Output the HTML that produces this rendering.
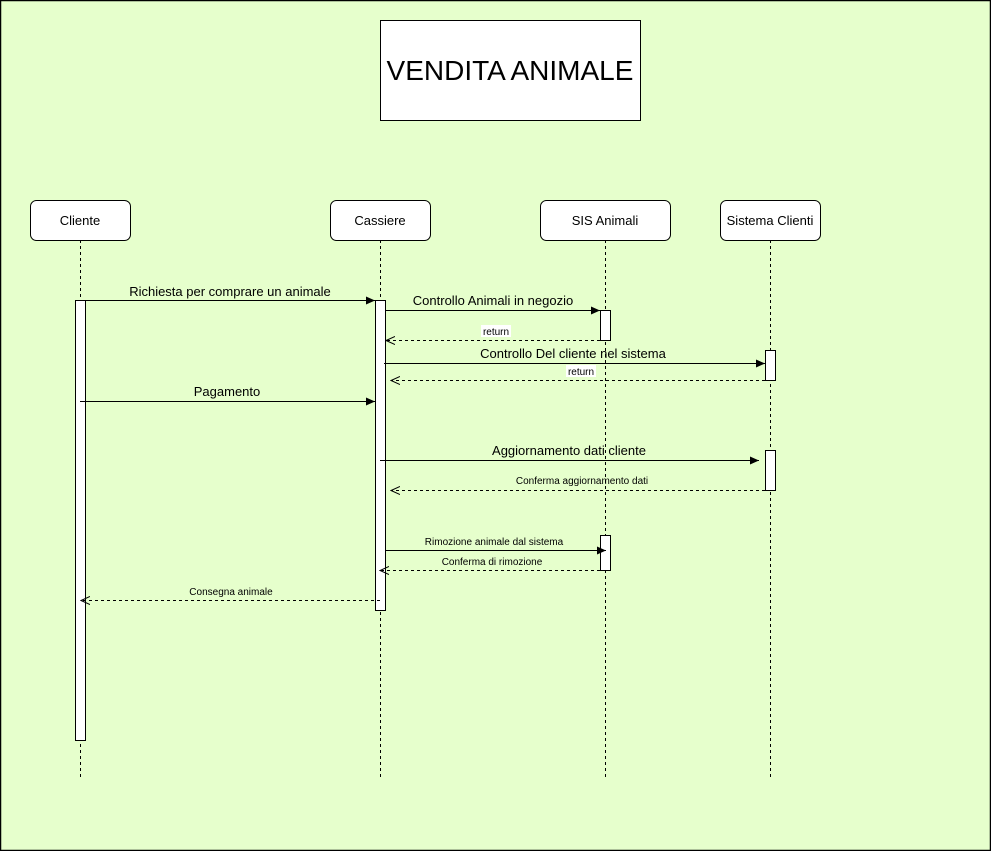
<!DOCTYPE html>
<html><head><meta charset="utf-8"><style>
html,body{margin:0;padding:0;background:#e6ffcc;}
svg{display:block;}
text{font-family:"Liberation Sans",sans-serif;}
</style></head><body>
<svg width="991" height="851" xmlns="http://www.w3.org/2000/svg">
<defs>
<marker id="f" markerWidth="10" markerHeight="10" refX="9" refY="5" orient="auto" markerUnits="userSpaceOnUse"><path d="M0,1 L9,5 L0,9 Z" fill="#000"/></marker>
<marker id="o" markerWidth="10" markerHeight="10" refX="9" refY="5" orient="auto" markerUnits="userSpaceOnUse"><path d="M0,1 L9,5 L0,9" fill="none" stroke="#000"/></marker>
</defs>
<rect x="0.5" y="0.5" width="990" height="850" fill="#e6ffcc" stroke="#000" stroke-width="1.5"/>
<rect x="380.5" y="20.5" width="260" height="100" fill="#fff" stroke="#000"/>
<text x="510" y="80" font-size="28" text-anchor="middle">VENDITA ANIMALE</text>
<g stroke="#000" stroke-dasharray="3,3">
<line x1="80.5" y1="240" x2="80.5" y2="777"/>
<line x1="380.5" y1="240" x2="380.5" y2="777"/>
<line x1="605.5" y1="240" x2="605.5" y2="777"/>
<line x1="770.5" y1="240" x2="770.5" y2="777"/>
</g>
<g fill="#fff" stroke="#000">
<rect x="30.5" y="200.5" width="100" height="40" rx="6"/>
<rect x="330.5" y="200.5" width="100" height="40" rx="6"/>
<rect x="540.5" y="200.5" width="130" height="40" rx="6"/>
<rect x="720.5" y="200.5" width="100" height="40" rx="6"/>
<rect x="75.5" y="300.5" width="10" height="440"/>
<rect x="375.5" y="300.5" width="10" height="310"/>
<rect x="600.5" y="310.5" width="10" height="30"/>
<rect x="600.5" y="535.5" width="10" height="35"/>
<rect x="765.5" y="350.5" width="10" height="30"/>
<rect x="765.5" y="450.5" width="10" height="40"/>
</g>
<g font-size="13" text-anchor="middle">
<text x="80" y="225">Cliente</text>
<text x="380" y="225">Cassiere</text>
<text x="605" y="225">SIS Animali</text>
<text x="770" y="225">Sistema Clienti</text>
</g>
<g stroke="#000" fill="none">
<line x1="85" y1="300.5" x2="375" y2="300.5" marker-end="url(#f)"/>
<line x1="385" y1="310.5" x2="600" y2="310.5" marker-end="url(#f)"/>
<line x1="600" y1="340.5" x2="386" y2="340.5" stroke-dasharray="3,3" marker-end="url(#o)"/>
<line x1="384" y1="363.5" x2="765" y2="363.5" marker-end="url(#f)"/>
<line x1="765" y1="380.5" x2="391" y2="380.5" stroke-dasharray="3,3" marker-end="url(#o)"/>
<line x1="80" y1="401.5" x2="375" y2="401.5" marker-end="url(#f)"/>
<line x1="380" y1="460.5" x2="759" y2="460.5" marker-end="url(#f)"/>
<line x1="765" y1="490.5" x2="391" y2="490.5" stroke-dasharray="3,3" marker-end="url(#o)"/>
<line x1="385" y1="550.5" x2="606" y2="550.5" marker-end="url(#f)"/>
<line x1="600" y1="570.5" x2="380" y2="570.5" stroke-dasharray="3,3" marker-end="url(#o)"/>
<line x1="380" y1="600.5" x2="81" y2="600.5" stroke-dasharray="3,3" marker-end="url(#o)"/>
</g>
<g font-size="13" text-anchor="middle">
<text x="230" y="296">Richiesta per comprare un animale</text>
<text x="493" y="305">Controllo Animali in negozio</text>
<text x="573" y="358">Controllo Del cliente nel sistema</text>
<text x="227" y="396">Pagamento</text>
<text x="569" y="455">Aggiornamento dati cliente</text>
</g>
<g font-size="10" text-anchor="middle">
<rect x="481" y="325" width="30" height="12" fill="#fff"/>
<text x="496" y="335">return</text>
<rect x="566" y="365" width="30" height="12" fill="#fff"/>
<text x="581" y="375">return</text>
<text x="582" y="484">Conferma aggiornamento dati</text>
<text x="494" y="545">Rimozione animale dal sistema</text>
<text x="492" y="565">Conferma di rimozione</text>
<text x="231" y="595">Consegna animale</text>
</g>
</svg>
</body></html>
